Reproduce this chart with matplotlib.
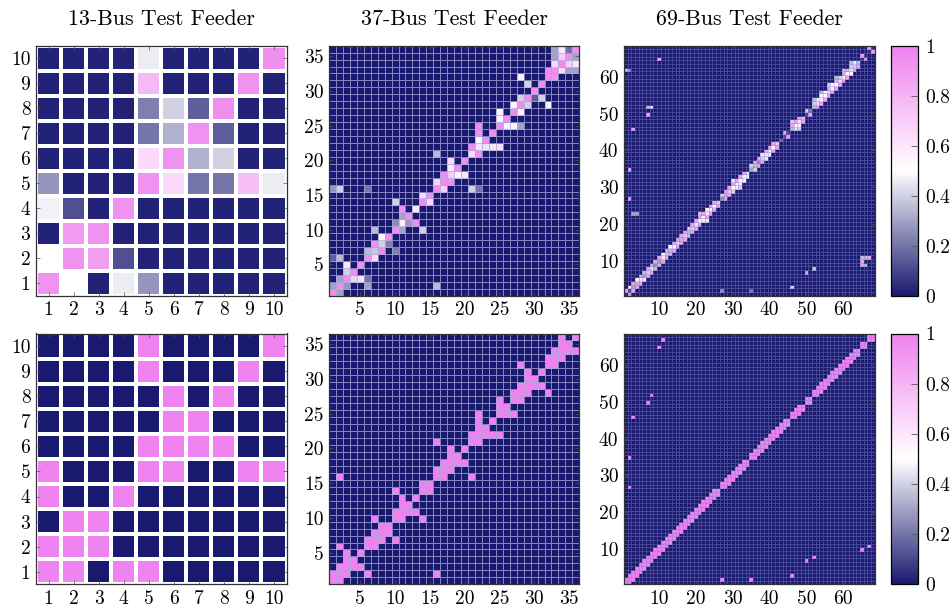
import numpy as np
import matplotlib
matplotlib.use("Agg")
import matplotlib.pyplot as plt
from matplotlib.colors import LinearSegmentedColormap
from matplotlib.cm import ScalarMappable
from matplotlib.colors import Normalize

plt.rcParams['font.family'] = ['cmr10']
plt.rcParams['axes.formatter.use_mathtext'] = True
plt.rcParams['mathtext.fontset'] = 'cm'

# ---------------- data ----------------
titles = ["13-Bus Test Feeder", "37-Bus Test Feeder", "69-Bus Test Feeder"]
ticks13 = [1, 2, 3, 4, 5, 6, 7, 8, 9, 10]
ticks37 = [5, 10, 15, 20, 25, 30, 35]
ticks69 = [10, 20, 30, 40, 50, 60]
cbar_ticks = [0, 0.2, 0.4, 0.6, 0.8, 1]
cbar_labels = ["0", "0.2", "0.4", "0.6", "0.8", "1"]

# 13-bus estimated matrix, rows listed from y=10 (top) down to y=1
pred13_rows_top_down = [
    [0.02, 0.02, 0.02, 0.02, 0.46, 0.02, 0.02, 0.02, 0.02, 0.95],
    [0.02, 0.02, 0.02, 0.02, 0.78, 0.02, 0.02, 0.02, 0.93, 0.02],
    [0.02, 0.02, 0.02, 0.02, 0.22, 0.40, 0.15, 0.95, 0.02, 0.02],
    [0.02, 0.02, 0.02, 0.02, 0.20, 0.33, 0.93, 0.15, 0.02, 0.02],
    [0.02, 0.02, 0.02, 0.02, 0.65, 0.93, 0.33, 0.40, 0.02, 0.02],
    [0.27, 0.02, 0.02, 0.02, 0.93, 0.65, 0.20, 0.20, 0.75, 0.46],
    [0.47, 0.12, 0.02, 0.93, 0.02, 0.02, 0.02, 0.02, 0.02, 0.02],
    [0.02, 0.90, 0.93, 0.02, 0.02, 0.02, 0.02, 0.02, 0.02, 0.02],
    [0.50, 0.93, 0.88, 0.12, 0.02, 0.02, 0.02, 0.02, 0.02, 0.02],
    [0.93, 0.50, 0.02, 0.46, 0.27, 0.02, 0.02, 0.02, 0.02, 0.02],
]

# true topologies (branches between buses); diagonal is always 1
edges13 = [(1, 2), (1, 4), (1, 5), (2, 3), (5, 6), (5, 9), (5, 10), (6, 7), (6, 8)]

edges37 = [(1, 2), (2, 3), (2, 6), (2, 16), (3, 4), (3, 5), (6, 7), (7, 8), (7, 10),
           (8, 9), (10, 11), (10, 14), (11, 12), (11, 13), (14, 15), (16, 17), (16, 21),
           (17, 18), (18, 19), (18, 20), (21, 22), (22, 23), (22, 24), (22, 25), (25, 26),
           (25, 27), (27, 28), (28, 29), (28, 32), (29, 30), (29, 31), (32, 33), (33, 34),
           (34, 35), (34, 36)]

# 37-bus estimated entries: (row y, column x, value)
pred37 = [
    (1, 1, 0.95), (1, 2, 0.30),
    (2, 1, 0.30), (2, 2, 0.95), (2, 3, 0.28), (2, 6, 0.30), (2, 16, 0.35),
    (3, 2, 0.30), (3, 3, 0.95), (3, 4, 0.42), (3, 5, 0.62), (3, 6, 0.20),
    (4, 3, 0.40), (4, 4, 0.95),
    (5, 3, 0.60), (5, 5, 0.95),
    (6, 1, 0.15), (6, 2, 0.35), (6, 6, 0.95), (6, 7, 0.65),
    (7, 6, 0.35), (7, 7, 0.38), (7, 8, 0.95), (7, 10, 0.22),
    (8, 7, 0.95), (8, 8, 0.40), (8, 9, 0.22),
    (9, 8, 0.55), (9, 9, 0.95),
    (10, 7, 0.35), (10, 10, 0.95), (10, 11, 0.30), (10, 14, 0.40),
    (11, 10, 0.25), (11, 11, 0.55), (11, 12, 0.28), (11, 13, 0.95),
    (12, 11, 0.30), (12, 12, 0.95),
    (13, 11, 0.95), (13, 13, 0.60),
    (14, 10, 0.40), (14, 14, 0.95), (14, 15, 0.65),
    (15, 14, 0.65), (15, 15, 0.95),
    (16, 1, 0.28), (16, 2, 0.40), (16, 6, 0.20), (16, 16, 0.95), (16, 17, 0.70),
    (16, 21, 0.40), (16, 22, 0.20),
    (17, 16, 0.68), (17, 17, 0.95), (17, 18, 0.95),
    (18, 17, 0.95), (18, 18, 0.72), (18, 19, 0.55), (18, 20, 0.62),
    (19, 18, 0.60), (19, 19, 0.95),
    (20, 18, 0.65), (20, 20, 0.95),
    (21, 16, 0.35), (21, 21, 0.65), (21, 22, 0.95),
    (22, 21, 0.95), (22, 22, 0.60), (22, 23, 0.45), (22, 24, 0.62), (22, 25, 0.62),
    (23, 22, 0.55), (23, 23, 0.95),
    (24, 22, 0.95), (24, 24, 0.95),
    (25, 22, 0.95), (25, 25, 0.95), (25, 26, 0.55), (25, 27, 0.55), (25, 28, 0.30),
    (26, 25, 0.55), (26, 26, 0.95),
    (27, 25, 0.55), (27, 27, 0.95), (27, 28, 0.55),
    (28, 27, 0.55), (28, 28, 0.95), (28, 29, 0.40), (28, 32, 0.55),
    (29, 28, 0.40), (29, 29, 0.95), (29, 30, 0.15), (29, 31, 0.40),
    (30, 30, 0.95),
    (31, 29, 0.40), (31, 31, 0.95),
    (32, 28, 0.55), (32, 32, 0.95), (32, 33, 0.95),
    (33, 32, 0.95), (33, 33, 0.95), (33, 34, 0.65), (33, 35, 0.30), (33, 36, 0.30),
    (34, 33, 0.65), (34, 34, 0.95), (34, 35, 0.70), (34, 36, 0.60),
    (35, 33, 0.30), (35, 34, 0.70), (35, 35, 0.95), (35, 36, 0.30),
    (36, 33, 0.30), (36, 34, 0.58), (36, 35, 0.20), (36, 36, 0.95),
]

# 69-bus feeder (68 nodes): chains of buses, each consecutive pair is a branch
chains69 = [
    [1, 2, 3, 4, 5, 6, 7, 8, 9, 10, 11, 12, 13, 14, 15, 16, 17, 18, 19, 20, 21, 22, 23, 24, 25, 26],
    [2, 27, 28, 29, 30, 31, 32, 33, 34],
    [2, 35, 36, 37, 38, 39, 40, 41, 42, 43, 44, 45],
    [3, 46, 47, 48, 49],
    [7, 50, 51],
    [8, 52, 53, 54, 55, 56, 57, 58, 59, 60, 61, 62, 63, 64],
    [10, 65, 66],
    [11, 67, 68],
]

# 69-bus estimated diagonal (bus 1 ... bus 68)
diag69 = [0.05, 0.10, 0.30, 0.35, 0.45, 0.30, 0.40, 0.45, 0.25, 0.30,
          0.60, 0.40, 0.35, 0.55, 0.45, 0.35, 0.40, 0.35, 0.40, 0.45,
          0.50, 0.55, 0.60, 0.55, 0.50, 0.40, 0.25, 0.35, 0.40, 0.50,
          0.55, 0.50, 0.55, 0.45, 0.30, 0.35, 0.25, 0.40, 0.45, 0.55,
          0.50, 0.40, 0.15, 0.10, 0.10, 0.35, 0.50, 0.45, 0.40, 0.10,
          0.20, 0.35, 0.45, 0.55, 0.50, 0.45, 0.55, 0.50, 0.45, 0.55,
          0.50, 0.45, 0.40, 0.35, 0.05, 0.05, 0.05, 0.05]

# 69-bus estimated off-diagonal entries (row y, column x, value)
pred69 = [
    (1, 2, 0.95), (2, 1, 0.95), (2, 3, 0.90), (3, 2, 0.55),
    (3, 4, 0.90), (4, 3, 0.90), (4, 5, 0.90), (5, 4, 0.55), (5, 6, 0.45), (6, 5, 0.90),
    (6, 7, 0.90), (7, 6, 0.35), (7, 8, 0.90), (8, 7, 0.90), (8, 9, 0.35), (9, 8, 0.90),
    (9, 10, 0.90), (10, 9, 0.35), (10, 11, 0.35), (11, 10, 0.90),
    (11, 12, 0.90), (12, 11, 0.55), (12, 13, 0.90), (13, 12, 0.90),
    (13, 14, 0.90), (14, 13, 0.50), (14, 15, 0.90), (15, 14, 0.90),
    (15, 16, 0.90), (16, 15, 0.90), (16, 17, 0.90), (17, 16, 0.90),
    (17, 18, 0.35), (18, 17, 0.90), (18, 19, 0.90), (19, 18, 0.40),
    (19, 20, 0.90), (20, 19, 0.90), (20, 21, 0.90), (21, 20, 0.90),
    (21, 22, 0.60), (22, 21, 0.90), (22, 23, 0.90), (23, 22, 0.90),
    (23, 24, 0.90), (24, 23, 0.55), (24, 25, 0.90),
    (25, 24, 0.90), (25, 26, 0.90), (26, 25, 0.90), (21, 23, 0.45), (23, 21, 0.40),
    (27, 2, 0.90), (2, 27, 0.25), (27, 28, 0.90), (28, 27, 0.40), (28, 29, 0.90),
    (29, 28, 0.90), (29, 30, 0.40), (30, 29, 0.90), (30, 31, 0.55), (31, 30, 0.90),
    (31, 32, 0.60), (32, 31, 0.90), (32, 33, 0.55), (33, 32, 0.90), (33, 34, 0.55),
    (34, 33, 0.90), (30, 32, 0.40), (32, 30, 0.45),
    (35, 2, 0.90), (2, 35, 0.20), (35, 36, 0.40), (36, 35, 0.40), (36, 37, 0.90),
    (37, 36, 0.90), (37, 38, 0.90), (38, 37, 0.90), (38, 39, 0.45), (39, 38, 0.45),
    (39, 40, 0.55), (40, 39, 0.90), (40, 41, 0.90), (41, 40, 0.90), (41, 42, 0.90),
    (42, 41, 0.90), (44, 45, 0.90), (45, 44, 0.90),
    (46, 3, 0.90), (3, 46, 0.40), (46, 47, 0.45), (47, 46, 0.90), (47, 48, 0.55),
    (48, 47, 0.90), (48, 49, 0.90), (49, 48, 0.90), (46, 48, 0.40), (48, 46, 0.40),
    (50, 7, 0.90), (7, 50, 0.90), (50, 51, 0.90), (51, 50, 0.40),
    (52, 8, 0.65), (52, 7, 0.35), (8, 52, 0.35), (52, 53, 0.90), (53, 52, 0.40),
    (53, 54, 0.90), (54, 53, 0.55), (54, 55, 0.90), (55, 54, 0.55), (55, 56, 0.90),
    (56, 55, 0.55), (56, 57, 0.90), (57, 56, 0.90), (57, 58, 0.90), (58, 57, 0.55),
    (58, 59, 0.90), (59, 58, 0.90), (59, 60, 0.90), (60, 59, 0.40), (60, 61, 0.90),
    (61, 60, 0.90), (61, 62, 0.55), (62, 61, 0.90), (62, 63, 0.90), (63, 62, 0.40),
    (63, 64, 0.90), (64, 63, 0.55), (54, 52, 0.35), (56, 54, 0.35), (58, 56, 0.40),
    (60, 58, 0.35), (62, 60, 0.40), (64, 62, 0.35),
    (65, 10, 0.90), (10, 65, 0.90), (11, 65, 0.35), (9, 65, 0.35), (9, 66, 0.35),
    (11, 66, 0.35), (66, 65, 0.90), (65, 66, 0.90),
    (11, 67, 0.90), (67, 68, 0.90), (68, 67, 0.90),
    (62, 1, 0.35), (62, 2, 0.25), (23, 3, 0.30), (23, 4, 0.30),
]

# ---------------- build matrices ----------------
def sym_matrix(n, edges):
    M = np.eye(n)
    for a, b in edges:
        M[a - 1, b - 1] = 1.0
        M[b - 1, a - 1] = 1.0
    return M

def entry_matrix(n, entries, diag=None):
    M = np.zeros((n, n))
    if diag is not None:
        M[np.arange(n), np.arange(n)] = diag
    for y, x, v in entries:
        M[y - 1, x - 1] = v
    return M

true13 = sym_matrix(10, edges13)
true37 = sym_matrix(36, edges37)
edges69 = [(c[k], c[k + 1]) for c in chains69 for k in range(len(c) - 1)]
true69 = sym_matrix(68, edges69)
est13 = np.array(pred13_rows_top_down)[::-1]
est37 = entry_matrix(36, pred37)
est69 = entry_matrix(68, pred69, diag69)

# ---------------- styling ----------------
cmap = LinearSegmentedColormap.from_list(
    "navy_white_violet", [(0.0, "#191970"), (0.5, "#ffffff"), (1.0, "#ee82ee")])

W, H = 952, 607
fig = plt.figure(figsize=(W / 100, H / 100), dpi=100)

def rect(l, t, r, b):
    return [l / W, 1 - b / H, (r - l) / W, (b - t) / H]

def draw(ax, M, ticks, ec, lw):
    n = M.shape[0]
    e = np.arange(0.5, n + 1.0, 1.0)
    ax.pcolormesh(e, e, M, cmap=cmap, vmin=0, vmax=1, edgecolors=ec, linewidth=lw)
    ax.set_xlim(0.5, n + 0.5)
    ax.set_ylim(0.5, n + 0.5)
    ax.set_xticks(ticks)
    ax.set_yticks(ticks)
    ax.set_xticklabels([str(t) for t in ticks])
    ax.set_yticklabels([str(t) for t in ticks])
    ax.tick_params(direction='in', top=True, right=True, length=3, width=0.5,
                   color='#555555', labelsize=14, pad=4)
    for s in ax.spines.values():
        s.set_linewidth(0.9)
        s.set_color('#333333')

rows_px = [(45.7, 295.7), (333.5, 584.3)]
cols_px = [(36, 286.5), (329, 579.3), (624, 874.7)]
mats = [[est13, est37, est69], [true13, true37, true69]]
tick_sets = [ticks13, ticks37, ticks69]
edge_styles = [("white", 1.6), ((0.66, 0.66, 0.86, 0.75), 0.5), ((0.5, 0.5, 0.78, 0.45), 0.4)]

for r, (t, b) in enumerate(rows_px):
    for c, (l, rr) in enumerate(cols_px):
        ax = fig.add_axes(rect(l, t, rr, b))
        ec, lw = edge_styles[c]
        draw(ax, mats[r][c], tick_sets[c], ec, lw)
    cax = fig.add_axes(rect(890.7, t, 918.3, b))
    sm = ScalarMappable(norm=Normalize(0, 1), cmap=cmap)
    cb = fig.colorbar(sm, cax=cax, ticks=cbar_ticks)
    cb.ax.set_yticklabels(cbar_labels)
    cb.ax.tick_params(direction='in', length=5, width=0.6, color='#555555',
                      labelsize=14, pad=5)
    cb.outline.set_linewidth(0.9)

for c, (l, rr) in enumerate(cols_px):
    fig.text((l + rr) / 2 / W, 1 - 19 / H, titles[c], ha='center', va='center', fontsize=15.8)

fig.savefig("out.png", dpi=100)
